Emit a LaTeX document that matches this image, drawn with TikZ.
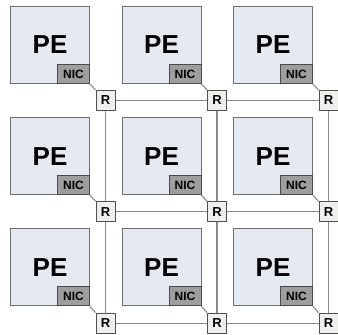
\documentclass[tikz,border=0pt]{standalone}
\usepackage{fontspec}
\setmainfont{Liberation Sans}
\definecolor{pefill}{HTML}{E4E9F2}
\definecolor{peline}{HTML}{6E6E6E}
\definecolor{nicfill}{HTML}{9E9E9E}
\definecolor{nicline}{HTML}{4A4A4A}
\definecolor{rfill}{HTML}{EFEFEC}
\definecolor{rline}{HTML}{505050}
\definecolor{wire}{HTML}{8A8A8A}
\begin{document}
\begin{tikzpicture}[x=1pt,y=-1pt,
  pebox/.style={draw=peline, fill=pefill, line width=1pt, minimum width=79pt,
    minimum height=77pt, inner sep=0pt, anchor=north west,
    font=\bfseries\fontsize{26}{26}\selectfont},
  nicbox/.style={draw=nicline, fill=nicfill, line width=1pt, minimum width=32pt,
    minimum height=19pt, inner sep=0pt, anchor=south east,
    font=\bfseries\fontsize{12}{12}\selectfont},
  router/.style={draw=rline, fill=rfill, line width=1pt, minimum width=19pt,
    minimum height=20pt, inner sep=0pt,
    font=\bfseries\fontsize{13}{13}\selectfont},
  wire/.style={draw=wire, line width=1.1pt}]
  \useasboundingbox (0,0) rectangle (338,335);
  % tiles: processing element, its network interface and its router
  \foreach \i in {0,1,2}{
    \foreach \j in {0,1,2}{
      \node[pebox] (pe-\i-\j) at ({10+111.5*\i},{6+111.2*\j}) {PE};
      \node[nicbox] (nic-\i-\j) at (pe-\i-\j.south east) {NIC};
      \node[router] (r-\i-\j) at ({105.5+111.5*\i},{100.5+111.3*\j}) {R};
      \draw[wire] (nic-\i-\j.south east) -- (r-\i-\j.north west);
    }
  }
  % mesh links between neighbouring routers
  \foreach \i/\k in {0/1,1/2}{
    \foreach \j in {0,1,2}{
      \draw[wire] (r-\i-\j) -- (r-\k-\j);
      \draw[wire] (r-\j-\i) -- (r-\j-\k);
    }
  }
\end{tikzpicture}
\end{document}
